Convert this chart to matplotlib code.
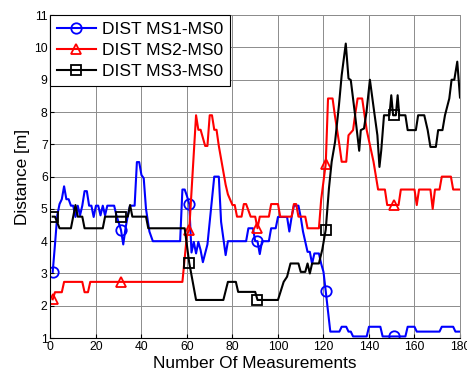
import numpy as np
import matplotlib
matplotlib.use('Agg')
import matplotlib.pyplot as plt

plt.rcParams['font.family'] = ['Liberation Sans', 'DejaVu Sans']

# measurement index where a marker is drawn
mark_x = [1, 31, 61, 91, 121, 151]

# DIST MS1-MS0 (vertices)
ms1_x = [1, 2, 3, 4, 5, 6, 7, 8, 9, 10, 11, 12, 13, 14, 15, 16, 17, 18, 19, 20,
         21, 22, 23, 24, 25, 28, 29, 31, 32, 33, 34, 35, 37, 38, 39, 40, 41, 42, 43.5, 45,
         57, 58, 59, 60, 61, 62, 63, 64, 65, 66, 67, 69, 72, 74, 75, 77, 78, 86, 87, 89,
         90, 91, 92, 93, 96, 97, 99, 100, 104, 105, 106, 107, 109, 110, 111, 113, 114, 115, 116, 118,
         119, 120, 121, 123, 127, 128, 130, 131, 132, 133, 139, 140, 145, 146, 151, 156, 157, 160, 161, 171,
         172, 177, 178, 180]
ms1_y = [3.05, 3.9, 4.8, 5.15, 5.3, 5.7, 5.3, 5.3, 5.1, 5.1, 4.75, 5.1, 4.8, 5.1, 5.55, 5.55, 5.1, 5.1, 4.75, 5.1,
         5.1, 4.8, 5.1, 4.8, 5.1, 5.1, 4.8, 4.35, 3.9, 4.4, 4.8, 5.1, 5.1, 6.45, 6.45, 6.05, 5.95, 5.0, 4.3, 4.0,
         4.0, 5.6, 5.6, 5.4, 5.15, 3.65, 3.98, 3.62, 3.98, 3.72, 3.35, 3.9, 6.0, 6.0, 4.6, 3.57, 4.0, 4.0, 4.4, 4.4,
         4.0, 4.0, 3.6, 4.0, 4.0, 4.4, 4.4, 4.75, 4.75, 4.3, 4.75, 5.1, 5.1, 4.75, 4.3, 3.67, 3.67, 3.3, 3.62, 3.62,
         3.3, 3.05, 2.45, 1.2, 1.2, 1.35, 1.35, 1.2, 1.2, 1.05, 1.05, 1.35, 1.35, 1.05, 1.05, 1.05, 1.35, 1.35, 1.2, 1.2,
         1.35, 1.35, 1.2, 1.2]

# DIST MS2-MS0
ms2_x = [1, 2, 5, 6, 14, 15, 16.5, 17.5, 31, 58, 60, 61, 64, 65, 66, 68, 69, 70, 71, 72,
         73, 74, 77, 78, 80, 81, 82, 84, 85, 86, 88, 90, 91, 92, 96, 97, 100, 101, 106, 107,
         108, 109, 112, 113, 118, 119, 121, 122, 124, 125, 127, 128, 130, 131, 133, 134, 135, 137, 139, 142,
         144, 147, 148, 151, 153, 154, 160, 161, 162, 167, 168, 169, 171, 172, 176, 177, 180]
ms2_y = [2.2, 2.42, 2.42, 2.74, 2.74, 2.42, 2.42, 2.74, 2.74, 2.74, 4.2, 4.35, 7.9, 7.45, 7.45, 6.95, 6.95, 7.9, 7.9, 7.45,
         7.45, 6.95, 5.75, 5.45, 5.12, 5.12, 4.76, 4.76, 5.15, 5.15, 4.76, 4.76, 4.4, 4.76, 4.76, 5.15, 5.15, 4.76, 4.76, 5.15,
         5.15, 4.76, 4.76, 4.4, 4.4, 5.3, 6.4, 8.42, 8.42, 7.9, 6.98, 6.46, 6.46, 7.28, 7.44, 7.96, 8.42, 8.42, 7.44, 6.46,
         5.6, 5.6, 5.12, 5.12, 5.12, 5.6, 5.6, 5.12, 5.6, 5.6, 5.0, 5.6, 5.6, 6.0, 6.0, 5.6, 5.6]

# DIST MS3-MS0
ms3_x = [1, 2, 4, 9, 10, 11, 12, 14, 15, 23, 24, 31, 34, 35, 36, 42, 43, 59, 61, 64,
         76, 78, 81.5, 82.5, 90, 91, 100, 102.5, 104, 105.5, 109, 110, 112, 113, 114, 115, 118, 119.5, 121, 122.4,
         123.6, 125.1, 126.8, 128, 129.8, 131, 132, 133.9, 135.7, 136.4, 137.8, 138.9, 140.4, 142.3, 143.7, 144.6, 145.4, 146.6, 149, 149.8,
         150.6, 151, 151.8, 152.6, 153.3, 156, 157, 160.6, 161.6, 164.3, 165.8, 167, 169.4, 170.4, 172.3, 173.4, 175.3, 176.3, 177.5, 178.8,
         180]
ms3_y = [4.76, 4.76, 4.4, 4.4, 4.76, 5.12, 4.76, 4.76, 4.4, 4.4, 4.76, 4.76, 4.76, 5.12, 4.76, 4.76, 4.4, 4.4, 3.33, 2.18,
         2.18, 2.74, 2.74, 2.43, 2.43, 2.18, 2.18, 2.74, 2.9, 3.31, 3.31, 3.05, 3.05, 3.31, 3.0, 3.31, 3.31, 3.75, 4.36, 5.63,
         6.46, 7.08, 8.21, 9.14, 10.12, 9.04, 8.99, 7.9, 6.8, 7.44, 7.49, 8.0, 9.0, 8.0, 7.28, 6.3, 6.82, 7.9, 7.9, 8.52,
         7.9, 7.9, 7.9, 8.52, 7.9, 7.9, 7.44, 7.44, 7.9, 7.9, 7.44, 6.92, 6.92, 7.44, 7.44, 7.9, 8.42, 9.0, 9.0, 9.56,
         8.45]

labels = ['DIST MS1-MS0', 'DIST MS2-MS0', 'DIST MS3-MS0']

series = [(ms1_x, ms1_y, 'b', 'o'),
          (ms2_x, ms2_y, 'r', '^'),
          (ms3_x, ms3_y, 'k', 's')]

fig = plt.figure(figsize=(4.67, 3.79), dpi=100)
ax = fig.add_axes([0.108, 0.108, 0.877, 0.852])

for (xs, ys, c, m), lab in zip(series, labels):
    assert len(xs) == len(ys), lab
    idx = [xs.index(v) for v in mark_x]
    ax.plot(xs, ys, color=c, lw=1.5, marker=m, markevery=idx, ms=7.5,
            mfc='none', mec=c, mew=1.3, label=lab)

ax.set_xlim(0, 180)
ax.set_ylim(1, 11)
ax.set_xticks(np.arange(0, 181, 20))
ax.set_yticks(np.arange(1, 12, 1))
ax.grid(True, color='0.55', lw=0.7)
ax.tick_params(direction='in', length=3, labelsize=8.7, top=False, right=False, pad=2)
for s in ['top', 'right']:
    ax.spines[s].set_color('0.55')
    ax.spines[s].set_linewidth(0.7)

ax.set_xlabel('Number Of Measurements', fontsize=12.4, labelpad=2)
ax.set_ylabel('Distance [m]', fontsize=12.4, labelpad=3)

leg = ax.legend(loc='upper left', fontsize=12.5, borderaxespad=0, fancybox=False,
                framealpha=1, edgecolor='k', handlelength=2.2, labelspacing=0.32,
                borderpad=0.4, handletextpad=0.35)
leg.get_frame().set_linewidth(0.8)

fig.savefig('out.png', dpi=100)
